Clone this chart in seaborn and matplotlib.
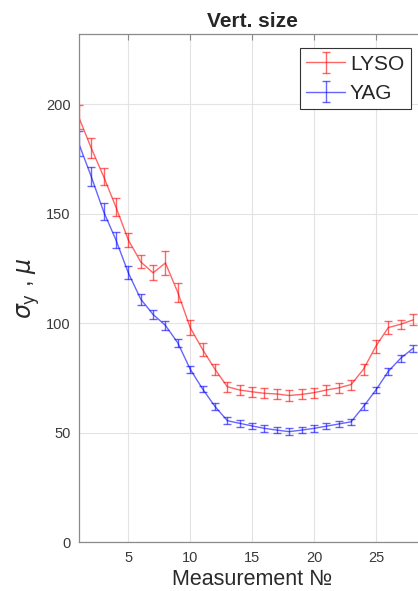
import numpy as np
import pandas as pd
import matplotlib
matplotlib.use("Agg")
import matplotlib.pyplot as plt
import seaborn as sns

measurement = list(range(1, 29))
lyso = [194, 180, 167, 153, 138, 128, 123, 127.5, 114, 98, 88, 79, 71, 69.5, 68.7, 68, 67.7, 67, 67.5, 68.3, 69.5, 70.5, 72, 79, 89.5, 98, 99.5, 101.5]
lyso_err = [5.5, 4.5, 4, 4, 3, 3, 3.5, 5.5, 4.5, 3.5, 3, 2.5, 2.3, 2.3, 2.3, 2.3, 2.3, 2.3, 2.3, 2.3, 2.3, 2.3, 2.3, 2.5, 3, 3, 2, 2.5]
yag = [182, 167, 151, 138, 123, 111, 104, 99, 91, 79, 70, 62, 55.5, 54.3, 53.1, 52, 51.2, 50.5, 51.2, 52, 53, 54, 55, 62, 69.5, 78, 84, 88.5]
yag_err = [5.5, 4.5, 4, 3.5, 3, 2.5, 2, 2, 2, 1.5, 1.5, 1.5, 1.5, 1.5, 1.5, 1.5, 1.5, 1.5, 1.5, 1.5, 1.5, 1.5, 1.5, 1.5, 1.5, 1.5, 1.5, 1.5]
series_names = ["LYSO", "YAG"]
series_colors = ["#ff0000", "#0000ff"]

df = pd.DataFrame({
    "Measurement": measurement * 2,
    "sigma": lyso + yag,
    "err": lyso_err + yag_err,
    "Crystal": ["LYSO"] * len(measurement) + ["YAG"] * len(measurement),
})

sns.set_style("whitegrid")
plt.rcParams["font.family"] = ["Liberation Sans", "DejaVu Sans"]
plt.rcParams["mathtext.fontset"] = "dejavusans"

fig = plt.figure(figsize=(4.18, 5.91), dpi=100)
ax_w = 346.6
ax = fig.add_axes([78.8 / 418, (591 - 542.3) / 591, ax_w / 418, 508.3 / 591])

alpha = 0.6
handles = []
for name, col in zip(series_names, series_colors):
    sub = df[df["Crystal"] == name]
    n_before = len(ax.lines)
    sns.lineplot(data=sub, x="Measurement", y="sigma", color=col, alpha=alpha,
                 linewidth=1.0, ax=ax, legend=False, errorbar=None)
    line = ax.lines[n_before]
    eb = ax.errorbar(sub["Measurement"], sub["sigma"], yerr=sub["err"], fmt="none",
                     ecolor=col, alpha=alpha, elinewidth=1.0, capsize=2.9, capthick=1.0)
    handles.append((line, eb))

ax.set_xlim(1, 29)
ax.set_ylim(0, 232)
ax.set_xticks([5, 10, 15, 20, 25])
ax.set_yticks([0, 50, 100, 150, 200])

ax.grid(True, color="#e3e3e3", linewidth=0.8)
for s in ax.spines.values():
    s.set_color("#8a8a8a")
    s.set_linewidth(0.9)
ax.tick_params(axis="both", direction="in", length=4, width=0.8, color="#8a8a8a",
               labelsize=10.5, labelcolor="#3a3a3a", top=True, right=True, pad=6)

ax.set_title("Vert. size", fontsize=15, fontweight="bold", pad=5)
ax.set_xlabel("Measurement №", fontsize=15.5, color="#2a2a2a", labelpad=3)
ax.set_ylabel(r"$\sigma_{\mathrm{y}}$ , $\mu$", fontsize=17, color="#2a2a2a", labelpad=3)

leg = ax.legend(handles=handles, labels=series_names, loc="upper left",
                bbox_to_anchor=((300 - 78.8) / ax_w, (542.3 - 48.3) / 508.3),
                fontsize=15, frameon=True, fancybox=False, edgecolor="#333333",
                framealpha=1, borderpad=0.3, handlelength=1.85, handletextpad=0.25,
                labelspacing=0.5, borderaxespad=0)
leg.get_frame().set_linewidth(0.8)

fig.savefig("out.png", dpi=100)
